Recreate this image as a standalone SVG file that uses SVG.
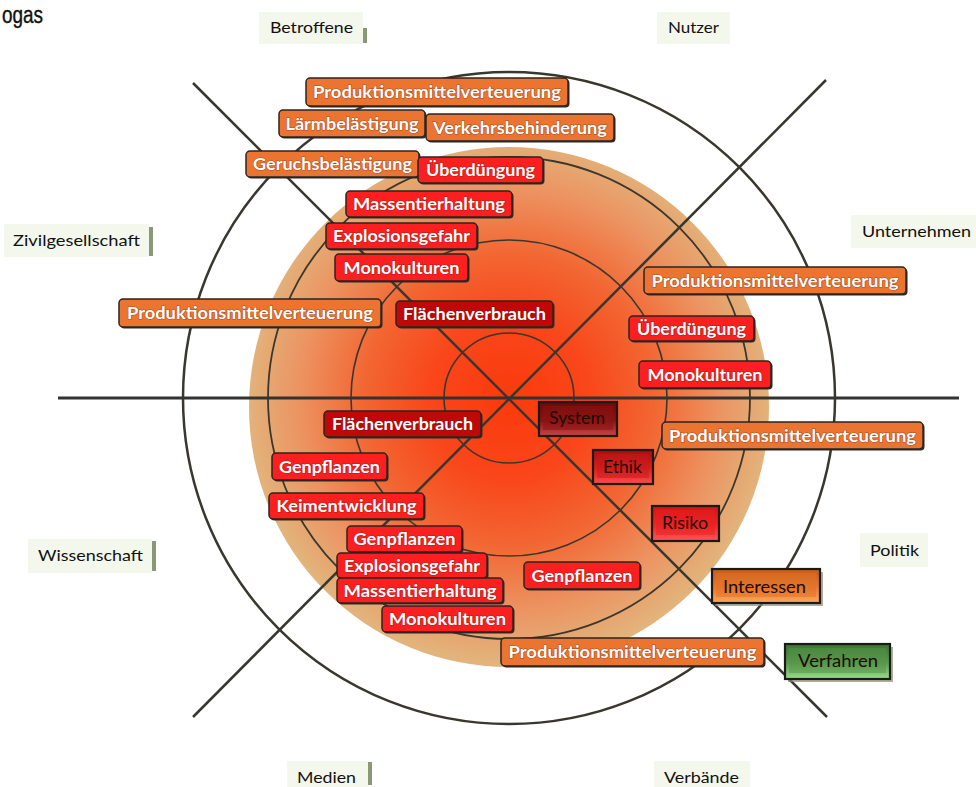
<svg xmlns="http://www.w3.org/2000/svg" width="976" height="787" viewBox="0 0 976 787">
<defs>
<radialGradient id="disc" gradientUnits="userSpaceOnUse" cx="509" cy="400" r="264">
<stop offset="0" stop-color="#fb3a0c"/>
<stop offset="0.3" stop-color="#f9461a"/>
<stop offset="0.55" stop-color="#f26632"/>
<stop offset="0.8" stop-color="#ec9462"/>
<stop offset="1" stop-color="#e2b47c"/>
</radialGradient>
<linearGradient id="gSys" x1="0" y1="0" x2="0" y2="1"><stop offset="0" stop-color="#6e0808"/><stop offset="0.55" stop-color="#8c1212"/><stop offset="1" stop-color="#c84848"/></linearGradient>
<linearGradient id="gEth" x1="0" y1="0" x2="0" y2="1"><stop offset="0" stop-color="#a80e0e"/><stop offset="0.55" stop-color="#d82020"/><stop offset="1" stop-color="#ff4c4c"/></linearGradient>
<linearGradient id="gRis" x1="0" y1="0" x2="0" y2="1"><stop offset="0" stop-color="#d01414"/><stop offset="0.55" stop-color="#f02424"/><stop offset="1" stop-color="#ff5656"/></linearGradient>
<linearGradient id="gInt" x1="0" y1="0" x2="0" y2="1"><stop offset="0" stop-color="#c45c1c"/><stop offset="0.55" stop-color="#e8782e"/><stop offset="1" stop-color="#ffa85a"/></linearGradient>
<linearGradient id="gVer" x1="0" y1="0" x2="0" y2="1"><stop offset="0" stop-color="#3a7432"/><stop offset="0.55" stop-color="#5c9a50"/><stop offset="1" stop-color="#9cdc8c"/></linearGradient>
</defs>
<style>
.ring{fill:none;stroke:#3a382e}
.axis{stroke:#38372f;stroke-width:2.5;fill:none}
.cat rect.bg{fill:#f4f7ec}
.cat rect.bar{fill:#8a9878}
.cat text{font-family:Lato,"Open Sans","Liberation Sans",sans-serif;font-size:16px;fill:#111}
.tag rect.sh{fill:#2e2a26}
.tag rect.box{stroke:#2a2522;stroke-width:1.5}
.o rect.box{fill:#ea7430}
.r rect.box{fill:#fc1f1f}
.d rect.box{fill:#c00808}
.tag text{font-family:Lato,"Open Sans","Liberation Sans",sans-serif;font-weight:bold;font-size:17px;fill:#ffffff;stroke:#5a1a10;stroke-width:1.2;stroke-opacity:0.45;paint-order:stroke;text-anchor:middle}
.bev rect.outer{stroke:#1c1a18;stroke-width:2.2}
.bev text{font-family:Lato,"Open Sans","Liberation Sans",sans-serif;font-size:17px;fill:#1c0a04;text-anchor:middle}
.bev rect.shade{fill:#8c8c70;opacity:0.7}
</style>
<rect width="976" height="787" fill="#ffffff"/>
<text x="2" y="23" font-family="'Liberation Sans',Arial,sans-serif" font-size="23" fill="#111" stroke="#111" stroke-width="0.4" textLength="41" lengthAdjust="spacingAndGlyphs">ogas</text>

<circle cx="509" cy="407" r="260" fill="url(#disc)"/>

<g id="rings">
<circle class="ring" cx="509" cy="398" r="326" stroke-width="2.5"/>
<circle class="ring" cx="509" cy="398" r="241" stroke-width="1.8"/>
<circle class="ring" cx="509" cy="398" r="158" stroke-width="1.6"/>
<circle class="ring" cx="509" cy="398" r="65" stroke-width="1.6"/>
</g>

<g id="connectors">
<line class="axis" x1="193" y1="83" x2="827" y2="717"/>
<line class="axis" x1="826" y1="80" x2="193" y2="717"/>
<line x1="58" y1="398" x2="959" y2="398" stroke="#333" stroke-width="3"/>
</g>

<g id="cat-betroffene" class="cat"><rect class="bg" x="259" y="12" width="104" height="32"/><rect class="bar" x="363" y="28" width="4" height="15"/><text x="270" y="33" textLength="83" lengthAdjust="spacingAndGlyphs">Betroffene</text></g>
<g id="cat-nutzer" class="cat"><rect class="bg" x="657" y="12" width="73" height="32"/><text x="668" y="33" textLength="51" lengthAdjust="spacingAndGlyphs">Nutzer</text></g>
<g id="cat-zivil" class="cat"><rect class="bg" x="4" y="224" width="145" height="33"/><rect class="bar" x="149" y="227" width="4" height="29"/><text x="13" y="246" textLength="127" lengthAdjust="spacingAndGlyphs">Zivilgesellschaft</text></g>
<g id="cat-unternehmen" class="cat"><rect class="bg" x="851" y="215" width="125" height="33"/><text x="862" y="237" textLength="109" lengthAdjust="spacingAndGlyphs">Unternehmen</text></g>
<g id="cat-wissenschaft" class="cat"><rect class="bg" x="28" y="539" width="124" height="34"/><rect class="bar" x="152" y="541" width="4" height="30"/><text x="38" y="561" textLength="105" lengthAdjust="spacingAndGlyphs">Wissenschaft</text></g>
<g id="cat-politik" class="cat"><rect class="bg" x="860" y="533" width="68" height="34"/><text x="870" y="556" textLength="49" lengthAdjust="spacingAndGlyphs">Politik</text></g>
<g id="cat-medien" class="cat"><rect class="bg" x="287" y="761" width="81" height="26"/><rect class="bar" x="368" y="762" width="4" height="23"/><text x="297" y="783" textLength="59" lengthAdjust="spacingAndGlyphs">Medien</text></g>
<g id="cat-verbaende" class="cat"><rect class="bg" x="654" y="761" width="96" height="26"/><text x="664" y="783" textLength="75" lengthAdjust="spacingAndGlyphs">Verbände</text></g>

<g id="t-prod1" class="tag o"><rect class="sh" x="307.5" y="79.5" width="262" height="28" rx="4"/><rect class="box" x="306" y="78" width="262" height="28" rx="4"/><text x="437" y="97.5" textLength="248" lengthAdjust="spacingAndGlyphs">Produktionsmittelverteuerung</text></g>
<g id="t-laerm" class="tag o"><rect class="sh" x="280.5" y="111.5" width="146" height="27" rx="4"/><rect class="box" x="279" y="110" width="146" height="27" rx="4"/><text x="352" y="129.5" textLength="133" lengthAdjust="spacingAndGlyphs">Lärmbelästigung</text></g>
<g id="t-verkehr" class="tag o"><rect class="sh" x="427.5" y="115.5" width="188" height="27" rx="4"/><rect class="box" x="426" y="114" width="188" height="27" rx="4"/><text x="520" y="133.5" textLength="174" lengthAdjust="spacingAndGlyphs">Verkehrsbehinderung</text></g>
<g id="t-geruch" class="tag o"><rect class="sh" x="247.5" y="152.5" width="173" height="26" rx="4"/><rect class="box" x="246" y="151" width="173" height="26" rx="4"/><text x="332.5" y="170" textLength="159" lengthAdjust="spacingAndGlyphs">Geruchsbelästigung</text></g>
<g id="t-ueber1" class="tag r"><rect class="sh" x="419.5" y="158.5" width="125" height="26" rx="4"/><rect class="box" x="418" y="157" width="125" height="26" rx="4"/><text x="480.5" y="176" textLength="109" lengthAdjust="spacingAndGlyphs">Überdüngung</text></g>
<g id="t-massen1" class="tag r"><rect class="sh" x="347.5" y="192.5" width="166" height="26" rx="4"/><rect class="box" x="346" y="191" width="166" height="26" rx="4"/><text x="429" y="210" textLength="152" lengthAdjust="spacingAndGlyphs">Massentierhaltung</text></g>
<g id="t-explo1" class="tag r"><rect class="sh" x="327.5" y="224.5" width="151" height="26" rx="4"/><rect class="box" x="326" y="223" width="151" height="26" rx="4"/><text x="401.5" y="242" textLength="137" lengthAdjust="spacingAndGlyphs">Explosionsgefahr</text></g>
<g id="t-mono1" class="tag r"><rect class="sh" x="336.5" y="255.5" width="133" height="27" rx="4"/><rect class="box" x="335" y="254" width="133" height="27" rx="4"/><text x="401.5" y="273.5" textLength="116" lengthAdjust="spacingAndGlyphs">Monokulturen</text></g>
<g id="t-prod2" class="tag o"><rect class="sh" x="120.5" y="300.5" width="262" height="28" rx="4"/><rect class="box" x="119" y="299" width="262" height="28" rx="4"/><text x="250" y="318.5" textLength="246" lengthAdjust="spacingAndGlyphs">Produktionsmittelverteuerung</text></g>
<g id="t-flaeche1" class="tag d"><rect class="sh" x="397.5" y="302.5" width="157" height="26" rx="4"/><rect class="box" x="396" y="301" width="157" height="26" rx="4"/><text x="474.5" y="320" textLength="143" lengthAdjust="spacingAndGlyphs">Flächenverbrauch</text></g>
<g id="t-prod3" class="tag o"><rect class="sh" x="645.5" y="268.5" width="262" height="27" rx="4"/><rect class="box" x="644" y="267" width="262" height="27" rx="4"/><text x="775" y="286.5" textLength="247" lengthAdjust="spacingAndGlyphs">Produktionsmittelverteuerung</text></g>
<g id="t-ueber2" class="tag r"><rect class="sh" x="630.5" y="317.5" width="125" height="25" rx="4"/><rect class="box" x="629" y="316" width="125" height="25" rx="4"/><text x="691.5" y="334.5" textLength="109" lengthAdjust="spacingAndGlyphs">Überdüngung</text></g>
<g id="t-mono2" class="tag r"><rect class="sh" x="640.5" y="362.5" width="132" height="27" rx="4"/><rect class="box" x="639" y="361" width="132" height="27" rx="4"/><text x="705" y="380.5" textLength="115" lengthAdjust="spacingAndGlyphs">Monokulturen</text></g>
<g id="t-flaeche2" class="tag d"><rect class="sh" x="325.5" y="412.5" width="157" height="26" rx="4"/><rect class="box" x="324" y="411" width="157" height="26" rx="4"/><text x="402.5" y="430" textLength="141" lengthAdjust="spacingAndGlyphs">Flächenverbrauch</text></g>
<g id="t-prod4" class="tag o"><rect class="sh" x="663.5" y="423.5" width="261" height="27" rx="4"/><rect class="box" x="662" y="422" width="261" height="27" rx="4"/><text x="792.5" y="441.5" textLength="247" lengthAdjust="spacingAndGlyphs">Produktionsmittelverteuerung</text></g>
<g id="t-gen1" class="tag r"><rect class="sh" x="273.5" y="454.5" width="115" height="27" rx="4"/><rect class="box" x="272" y="453" width="115" height="27" rx="4"/><text x="329.5" y="472.5" textLength="101" lengthAdjust="spacingAndGlyphs">Genpflanzen</text></g>
<g id="t-keim" class="tag r"><rect class="sh" x="270.5" y="494.5" width="155" height="26" rx="4"/><rect class="box" x="269" y="493" width="155" height="26" rx="4"/><text x="346.5" y="512" textLength="140" lengthAdjust="spacingAndGlyphs">Keimentwicklung</text></g>
<g id="t-gen2" class="tag r"><rect class="sh" x="348.5" y="527.5" width="115" height="26" rx="4"/><rect class="box" x="347" y="526" width="115" height="26" rx="4"/><text x="404.5" y="545" textLength="102" lengthAdjust="spacingAndGlyphs">Genpflanzen</text></g>
<g id="t-explo2" class="tag r"><rect class="sh" x="338.5" y="554.5" width="150" height="25" rx="4"/><rect class="box" x="337" y="553" width="150" height="25" rx="4"/><text x="412" y="571.5" textLength="136" lengthAdjust="spacingAndGlyphs">Explosionsgefahr</text></g>
<g id="t-massen2" class="tag r"><rect class="sh" x="338.5" y="579.5" width="166" height="25" rx="4"/><rect class="box" x="337" y="578" width="166" height="25" rx="4"/><text x="420" y="596.5" textLength="153" lengthAdjust="spacingAndGlyphs">Massentierhaltung</text></g>
<g id="t-mono3" class="tag r"><rect class="sh" x="383.5" y="607.5" width="131" height="26" rx="4"/><rect class="box" x="382" y="606" width="131" height="26" rx="4"/><text x="447.5" y="625" textLength="117" lengthAdjust="spacingAndGlyphs">Monokulturen</text></g>
<g id="t-gen3" class="tag r"><rect class="sh" x="525.5" y="563.5" width="116" height="27" rx="4"/><rect class="box" x="524" y="562" width="116" height="27" rx="4"/><text x="582" y="581.5" textLength="101" lengthAdjust="spacingAndGlyphs">Genpflanzen</text></g>
<g id="t-prod5" class="tag o"><rect class="sh" x="502.5" y="639.5" width="263" height="28" rx="4"/><rect class="box" x="501" y="638" width="263" height="28" rx="4"/><text x="632.5" y="658" textLength="248" lengthAdjust="spacingAndGlyphs">Produktionsmittelverteuerung</text></g>

<g id="b-system" class="bev"><rect class="outer" x="539" y="402" width="78" height="34" fill="url(#gSys)"/><rect x="543" y="406" width="70" height="24" fill="#8a1414" opacity="0.55"/><text x="577" y="424" textLength="56" lengthAdjust="spacingAndGlyphs">System</text></g>
<g id="b-ethik" class="bev"><rect class="outer" x="593" y="450" width="60" height="34" fill="url(#gEth)"/><rect x="597" y="454" width="52" height="24" fill="#c81818" opacity="0.5"/><text x="622.5" y="473" textLength="39" lengthAdjust="spacingAndGlyphs">Ethik</text></g>
<g id="b-risiko" class="bev"><rect class="outer" x="652" y="506" width="67" height="35" fill="url(#gRis)"/><rect x="656" y="510" width="59" height="25" fill="#e82020" opacity="0.5"/><text x="685" y="529" textLength="46" lengthAdjust="spacingAndGlyphs">Risiko</text></g>
<g id="b-interessen" class="bev"><rect class="shade" x="715" y="572" width="108" height="34"/><rect class="outer" x="712" y="569" width="108" height="34" fill="url(#gInt)"/><rect x="716" y="573" width="100" height="24" fill="#e07228" opacity="0.5"/><text x="764.5" y="593" textLength="83" lengthAdjust="spacingAndGlyphs">Interessen</text></g>
<g id="b-verfahren" class="bev"><rect class="shade" x="788" y="647" width="105" height="35"/><rect class="outer" x="785" y="644" width="105" height="35" fill="url(#gVer)"/><rect x="789" y="648" width="97" height="25" fill="#559448" opacity="0.5"/><text x="838" y="667" textLength="80" lengthAdjust="spacingAndGlyphs">Verfahren</text></g>
</svg>
